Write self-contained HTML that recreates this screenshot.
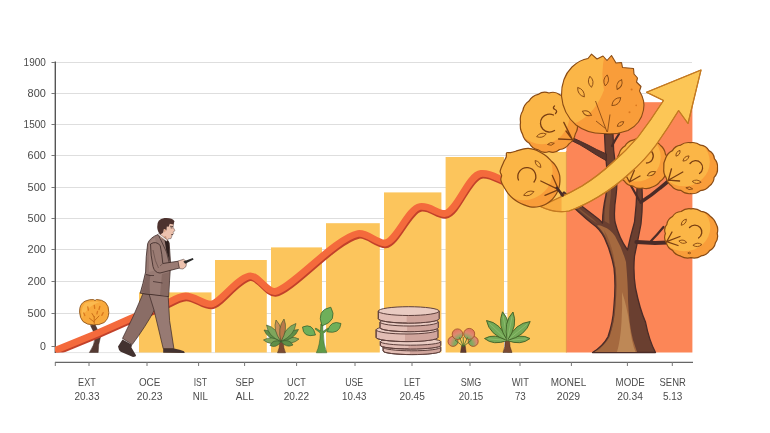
<!DOCTYPE html>
<html><head><meta charset="utf-8"><title>Growth chart</title>
<style>
html,body{margin:0;padding:0;background:#fff;}
body{width:770px;height:433px;overflow:hidden;}
svg{display:block;filter:blur(0.35px);}
.t{font-family:"Liberation Sans",sans-serif;font-size:10.1px;fill:#4c4c4c;}
.y{font-family:"Liberation Sans",sans-serif;font-size:10.6px;fill:#4a4a4a;}
</style></head><body>
<svg width="770" height="433" viewBox="0 0 770 433">
<rect width="770" height="433" fill="#ffffff"/>
<line x1="55" y1="62.5" x2="692" y2="62.5" stroke="#dedede" stroke-width="1"/>
<line x1="55" y1="93.5" x2="692" y2="93.5" stroke="#dedede" stroke-width="1"/>
<line x1="55" y1="124.5" x2="692" y2="124.5" stroke="#dedede" stroke-width="1"/>
<line x1="55" y1="155.5" x2="692" y2="155.5" stroke="#dedede" stroke-width="1"/>
<line x1="55" y1="187.5" x2="692" y2="187.5" stroke="#dedede" stroke-width="1"/>
<line x1="55" y1="218.5" x2="692" y2="218.5" stroke="#dedede" stroke-width="1"/>
<line x1="55" y1="249.5" x2="692" y2="249.5" stroke="#dedede" stroke-width="1"/>
<line x1="55" y1="281.5" x2="692" y2="281.5" stroke="#dedede" stroke-width="1"/>
<line x1="55" y1="313.5" x2="692" y2="313.5" stroke="#dedede" stroke-width="1"/>
<line x1="55" y1="352.6" x2="300" y2="352.6" stroke="#e4e4e4" stroke-width="1"/>
<rect x="139.0" y="292.4" width="72.5" height="60.1" fill="#FCC55C"/>
<rect x="215.0" y="260.0" width="51.8" height="92.5" fill="#FCC55C"/>
<rect x="271.0" y="247.4" width="51.0" height="105.1" fill="#FCC55C"/>
<rect x="326.0" y="223.2" width="53.8" height="129.3" fill="#FCC55C"/>
<rect x="384.0" y="192.4" width="57.4" height="160.1" fill="#FCC55C"/>
<rect x="445.6" y="157.0" width="58.4" height="195.5" fill="#FCC55C"/>
<rect x="507.4" y="152.0" width="59.1" height="200.5" fill="#FCC55C"/>
<rect x="566.4" y="102.2" width="126" height="250.3" fill="#FC8657"/>
<line x1="566.4" y1="151" x2="566.4" y2="352.5" stroke="#E0903F" stroke-width="0.8"/>
<line x1="55.3" y1="61.5" x2="55.3" y2="353" stroke="#555" stroke-width="1.4"/>
<line x1="51.5" y1="62.5" x2="55" y2="62.5" stroke="#777" stroke-width="1"/>
<line x1="51.5" y1="93.5" x2="55" y2="93.5" stroke="#777" stroke-width="1"/>
<line x1="51.5" y1="124.5" x2="55" y2="124.5" stroke="#777" stroke-width="1"/>
<line x1="51.5" y1="155.5" x2="55" y2="155.5" stroke="#777" stroke-width="1"/>
<line x1="51.5" y1="187.5" x2="55" y2="187.5" stroke="#777" stroke-width="1"/>
<line x1="51.5" y1="218.5" x2="55" y2="218.5" stroke="#777" stroke-width="1"/>
<line x1="51.5" y1="249.5" x2="55" y2="249.5" stroke="#777" stroke-width="1"/>
<line x1="51.5" y1="281.5" x2="55" y2="281.5" stroke="#777" stroke-width="1"/>
<line x1="51.5" y1="313.5" x2="55" y2="313.5" stroke="#777" stroke-width="1"/>
<line x1="51.5" y1="346.5" x2="55" y2="346.5" stroke="#777" stroke-width="1"/>
<path d="M89.4 352.5 Q94.5 345 95 338 Q94 331 90.5 325.5 L95 324.5 Q97.5 330 100.7 336 Q98 345 98.2 352.5Z" fill="#553a33" stroke="#3d2620" stroke-width="0.5"/>
<path d="M79.6 312 Q79.2 304 85 301.2 Q90 299 93.5 299.6 L95 300.6 L96.5 299.5 Q102 299.6 105.5 302.5 Q109 306 108.8 312.5 Q108.6 319 104 322.6 Q99 325.4 93.5 324.8 Q87 325 83 321.5 Q79.8 318 79.6 312Z" fill="#F8A93C" stroke="#8f5318" stroke-width="0.9"/>
<path d="M85 303 Q92 300.5 100 302 Q93 304 88 309 Q84 313 82 318 Q80 310 85 303Z" fill="#FBBE55" opacity="0.8"/>
<path d="M94.2 323.5 L94.2 316.5 M94.2 322 L89.5 318.3 M94.2 321 L99 316 M94.2 317 L92 313.5" stroke="#C96D18" stroke-width="1" fill="none" stroke-linecap="round"/>
<path d="M87.8 307 l0.6 3.2 M94.3 305.3 l0.4 3 M99.8 306.5 l-0.8 3 M83.8 313 l1 2.6 M103.2 312.6 l-1.4 2.8 M97.5 311.5 l-0.6 2.4" stroke="#D9781E" stroke-width="1.3" fill="none" stroke-linecap="round"/>
<clipPath id="cl"><rect x="55" y="0" width="700" height="352.5"/></clipPath>
<g clip-path="url(#cl)">
<path d="M55 350.5 L96.8 333.4 L131.8 317.8 L158 307.5 C168 303.5 177 296.3 185.6 296 C194.5 295.8 203 304.5 211.3 304.1 C220 303 236 279 249 276 C258 274 266 292 275 291.5 C290 290 335 238 358 233.5 C367 232 377 243.5 385 243 C396 242 408 208.5 420 206.5 C430 205 437 214 445 213.5 C457 212 468 175 481 173.5 C490 172.5 497 178 505 181" transform="translate(0.6,1.6)" fill="none" stroke="#C2412A" stroke-width="7.2" stroke-linejoin="round"/>
<path d="M55 350.5 L96.8 333.4 L131.8 317.8 L158 307.5 C168 303.5 177 296.3 185.6 296 C194.5 295.8 203 304.5 211.3 304.1 C220 303 236 279 249 276 C258 274 266 292 275 291.5 C290 290 335 238 358 233.5 C367 232 377 243.5 385 243 C396 242 408 208.5 420 206.5 C430 205 437 214 445 213.5 C457 212 468 175 481 173.5 C490 172.5 497 178 505 181" fill="none" stroke="#F46A3C" stroke-width="6.8" stroke-linejoin="round"/>
</g>
<g><path d="M143 293.5 L157 296 L154.5 310 Q146 326 132.2 344.6 L122.5 338.4 Q134 316 143 293.5Z" fill="#8a6d66" stroke="#3a2725" stroke-width="0.7"/><path d="M122.5 339.5 L118 346.4 Q118.5 350 120.7 351.7 L133 357 Q136 357 136 355.3 L131.4 347.5 L132 344.8 Z" fill="#433230"/><path d="M149 294 L168.2 295.7 Q169 310 169.6 320.6 L173.9 348.6 L163.2 348.6 L154 310 Z" fill="#977a73" stroke="#3a2725" stroke-width="0.7"/><path d="M163.2 348.4 L174.2 348.4 Q180 349.5 184 351.2 L184.8 353 L163.2 352.8 Z" fill="#433230"/><path d="M158 234.5 Q150 237.5 147.7 243.5 Q145.8 256 145.6 272 Q143 284 140.2 293.2 L168.6 296.6 Q169.5 280 170.6 264 L169.2 243 L165.5 236.5 Z" fill="#977a73" stroke="#3a2725" stroke-width="0.8" stroke-linejoin="round"/><path d="M149 246 Q150 240 155 238 L158 252 L156 270 L149 272 Z" fill="#A88A82" opacity="0.7"/><path d="M146 274 Q143.5 285 141.5 292.5 L150 293.5 Q149 282 150.5 275Z" fill="#6d524d" opacity="0.55"/><path d="M162 274 L169.8 272 L168.4 296 L160 295 Z" fill="#7d5f59" opacity="0.6"/><path d="M164 236.5 L168.8 242 L169.8 262 L166.2 250 Z" fill="#2e1f1e"/><path d="M158.5 235 L166.5 252 L169.5 264" fill="none" stroke="#3a2725" stroke-width="0.7"/><path d="M153 281.5 L162.5 283 M146 274.5 Q150 276 154 275.5" fill="none" stroke="#3a2725" stroke-width="0.7"/><path d="M150.5 244 Q156 240.5 160.2 245.5 Q162 254 162.8 263.5 L178.3 261.2 L179.6 268 L160 273 Q154.5 272.8 153 266.5 Q150.5 255 150.5 244Z" fill="#9a7b73" stroke="#3a2725" stroke-width="0.8" stroke-linejoin="round"/><path d="M153 250 Q155 262 158.5 268 M162.8 263.5 L160 266" fill="none" stroke="#5d4440" stroke-width="0.6"/><path d="M178 261 L183.5 259.3 L186.6 261.5 L186 266.5 L183 269 L179.6 268.6 Z" fill="#EDC2AE" stroke="#3a2725" stroke-width="0.5"/><path d="M183.3 261.6 L192.8 258 L193.6 259.6 L185.2 263.8 Z" fill="#2a2a2a"/><path d="M160.5 230 L160 238 L167.2 240.8 L168.3 238.8 L171 238.6 L172.2 235.2 L173.6 233.6 L173 232.2 L175 230.6 L173.2 227.4 L173.6 223.2 L165 221.5 Z" fill="#EDC2AE" stroke="#3a2725" stroke-width="0.4"/><path d="M160 238 L167.2 240.8 L166 236 Z" fill="#c99478"/><path d="M157.6 234.6 L166.6 241.6 L167.4 240 L159 233.4 Z" fill="#f4ece8" stroke="#3a2725" stroke-width="0.35"/><path d="M170 226.2 L173 226.6 M170.6 227.8 L172.4 228 M171.2 234.6 L173 234.4" stroke="#2e1f1e" stroke-width="0.7" fill="none"/><path d="M157.2 227 Q156.6 219 164.5 218 Q172 217.4 174.5 221.2 L173.4 224.4 L169.8 223.8 L168.6 226.8 L166.8 226.6 L166.4 230.4 L164 229 L163 232.8 L160.4 234.6 Q157.4 232 157.2 227Z" fill="#4d322e"/><path d="M163.6 229.6 q1.4 -1.6 2.2 0.4 q0 1.8 -1.4 2.4z" fill="#d9a486"/></g>
<path d="M277.5 352.8 Q280 348 279.5 341 L283.5 341 Q283 348 285.5 352.8Z" fill="#7a4a33" stroke="#3d2620" stroke-width="0.5"/><path d="M281.0 341.5 Q274.5 329.9 264.0 330.0 Q267.8 339.8 281.0 341.5Z" fill="#5F8F48" stroke="#36522a" stroke-width="0.6"/><path d="M281.0 341.5 Q271.3 335.1 263.5 340.0 Q270.4 346.2 281.0 341.5Z" fill="#7FA65C" stroke="#36522a" stroke-width="0.6"/><path d="M281.0 341.5 Q292.2 345.6 299.0 339.0 Q290.7 334.5 281.0 341.5Z" fill="#7FA65C" stroke="#36522a" stroke-width="0.6"/><path d="M281.0 341.5 Q294.5 339.5 298.5 329.5 Q287.8 329.6 281.0 341.5Z" fill="#5F8F48" stroke="#36522a" stroke-width="0.6"/><path d="M281.0 341.5 Q277.4 327.7 266.5 325.0 Q267.8 336.2 281.0 341.5Z" fill="#7FA65C" stroke="#36522a" stroke-width="0.6"/><path d="M281.0 341.5 Q294.6 335.2 296.0 323.5 Q284.8 327.0 281.0 341.5Z" fill="#7FA65C" stroke="#36522a" stroke-width="0.6"/><path d="M281.0 341.5 Q283.6 327.8 276.0 320.0 Q272.6 330.3 281.0 341.5Z" fill="#C98F58" stroke="#36522a" stroke-width="0.6"/><path d="M281.0 341.5 Q288.3 329.2 284.0 319.0 Q277.2 327.7 281.0 341.5Z" fill="#B9794A" stroke="#36522a" stroke-width="0.6"/><path d="M281.0 341.5 Q272.8 338.9 270.0 345.5 Q276.4 348.7 281.0 341.5Z" fill="#5F8F48" stroke="#36522a" stroke-width="0.6"/><path d="M281.0 341.5 Q286.5 348.5 293.0 345.0 Q289.4 338.5 281.0 341.5Z" fill="#5F8F48" stroke="#36522a" stroke-width="0.6"/>
<path d="M316.3 352.8 Q320 345 320.3 333 L315 329 L315.8 328 L320.5 331 L320.8 324 L322.8 324 L322.8 331.5 L328 328 L328.8 329 L323.3 333.5 Q323.5 345 326.8 352.8Z" fill="#5E9A48" stroke="#2f5a2a" stroke-width="0.5"/><path d="M322.0 326.0 Q338.3 320.4 330.8 307.2 Q315.9 309.8 322.0 326.0Z" fill="#6FAF5A" stroke="#2f5a2a" stroke-width="0.7"/><path d="M315.5 335.0 Q312.8 322.5 302.5 327.0 Q303.1 338.2 315.5 335.0Z" fill="#6FAF5A" stroke="#2f5a2a" stroke-width="0.7"/><path d="M327.2 331.8 Q339.7 334.5 341.0 323.5 Q330.7 319.4 327.2 331.8Z" fill="#6FAF5A" stroke="#2f5a2a" stroke-width="0.7"/>
<path d="M383.1 347.2 L383.1 351.0 A28.8 3.6 0 0 0 440.7 351.0 L440.7 347.2 Z" fill="#E2BDB4" stroke="#5e403c" stroke-width="1"/><path d="M409.9 347.2 L409.9 354.6 A29.4 3.6 0 0 0 440.7 351.0 L440.7 347.2 Z" fill="#D0A59C"/><path d="M383.1 347.2 L383.1 351.0 A28.8 3.6 0 0 0 440.7 351.0 L440.7 347.2 Z" fill="none" stroke="#5e403c" stroke-width="1"/><ellipse cx="411.9" cy="347.2" rx="28.8" ry="3.6" fill="#E9CBC2" stroke="#5e403c" stroke-width="1"/>
<path d="M380.3 341.6 L380.3 345.4 A30.2 3.6 0 0 0 440.7 345.4 L440.7 341.6 Z" fill="#E2BDB4" stroke="#5e403c" stroke-width="1"/><path d="M408.5 341.6 L408.5 349.0 A30.8 3.6 0 0 0 440.7 345.4 L440.7 341.6 Z" fill="#D0A59C"/><path d="M380.3 341.6 L380.3 345.4 A30.2 3.6 0 0 0 440.7 345.4 L440.7 341.6 Z" fill="none" stroke="#5e403c" stroke-width="1"/><ellipse cx="410.5" cy="341.6" rx="30.2" ry="3.6" fill="#E9CBC2" stroke="#5e403c" stroke-width="1"/>
<path d="M376.1 329.8 L376.1 337.4 A30.9 4.2 0 0 0 437.9 337.4 L437.9 329.8 Z" fill="#E2BDB4" stroke="#5e403c" stroke-width="1"/><path d="M405.0 329.8 L405.0 341.6 A31.5 4.2 0 0 0 437.9 337.4 L437.9 329.8 Z" fill="#D0A59C"/><path d="M376.1 329.8 L376.1 337.4 A30.9 4.2 0 0 0 437.9 337.4 L437.9 329.8 Z" fill="none" stroke="#5e403c" stroke-width="1"/><ellipse cx="407.0" cy="329.8" rx="30.9" ry="4.2" fill="#E9CBC2" stroke="#5e403c" stroke-width="1"/>
<path d="M380.0 322.0 L380.0 327.7 A29.1 4.0 0 0 0 438.2 327.7 L438.2 322.0 Z" fill="#E2BDB4" stroke="#5e403c" stroke-width="1"/><path d="M407.1 322.0 L407.1 331.7 A29.7 4.0 0 0 0 438.2 327.7 L438.2 322.0 Z" fill="#D0A59C"/><path d="M380.0 322.0 L380.0 327.7 A29.1 4.0 0 0 0 438.2 327.7 L438.2 322.0 Z" fill="none" stroke="#5e403c" stroke-width="1"/><ellipse cx="409.1" cy="322.0" rx="29.1" ry="4.0" fill="#E9CBC2" stroke="#5e403c" stroke-width="1"/>
<path d="M378.3 311.1 L378.3 318.7 A30.4 4.4 0 0 0 439.1 318.7 L439.1 311.1 Z" fill="#E2BDB4" stroke="#5e403c" stroke-width="1"/><path d="M406.7 311.1 L406.7 323.1 A31.0 4.4 0 0 0 439.1 318.7 L439.1 311.1 Z" fill="#D0A59C"/><path d="M378.3 311.1 L378.3 318.7 A30.4 4.4 0 0 0 439.1 318.7 L439.1 311.1 Z" fill="none" stroke="#5e403c" stroke-width="1"/><ellipse cx="408.7" cy="311.1" rx="30.4" ry="4.4" fill="#E9CBC2" stroke="#5e403c" stroke-width="1"/>
<radialGradient id="g3" gradientUnits="userSpaceOnUse" cx="463.4" cy="346" r="17"><stop offset="0" stop-color="#5f9a48"/><stop offset="0.55" stop-color="#86aa62"/><stop offset="0.82" stop-color="#dd8a70"/><stop offset="1" stop-color="#e27a62"/></radialGradient><path d="M460.5 352.5 L461.6 345.5 L465.2 345.5 L466.2 352.5Z" fill="#5e3a30" stroke="#3d2620" stroke-width="0.4"/><circle cx="453.0" cy="341.4" r="5.0" fill="url(#g3)" stroke="#9a4a26" stroke-width="0.8"/><circle cx="473.2" cy="341.4" r="5.0" fill="url(#g3)" stroke="#9a4a26" stroke-width="0.8"/><circle cx="457.5" cy="334.2" r="5.3" fill="url(#g3)" stroke="#9a4a26" stroke-width="0.8"/><circle cx="469.2" cy="333.9" r="5.5" fill="url(#g3)" stroke="#9a4a26" stroke-width="0.8"/><path d="M463.4 346.5 L455 340 M463.4 346.5 L471.5 340 M463.4 346.5 L463.2 337 M463.4 346.5 L459.5 337.5 M463.4 346.5 L467.5 337.5" stroke="#3f6a2c" stroke-width="0.8" fill="none"/>
<path d="M503 352.5 Q505.5 347 505 340 L509.5 340 Q509.3 347 512 352.5Z" fill="#7a4a33" stroke="#3d2620" stroke-width="0.5"/><path d="M507.3 340.5 Q494.7 332.8 484.5 338.5 Q493.5 345.9 507.3 340.5Z" fill="#74A957" stroke="#3f5f26" stroke-width="0.9"/><line x1="507.3" y1="340.5" x2="487.9" y2="338.8" stroke="#a5cf85" stroke-width="0.6" opacity="0.8"/><path d="M507.3 340.5 Q521.0 345.9 530.0 338.5 Q519.9 332.8 507.3 340.5Z" fill="#74A957" stroke="#3f5f26" stroke-width="0.9"/><line x1="507.3" y1="340.5" x2="526.6" y2="338.8" stroke="#a5cf85" stroke-width="0.6" opacity="0.8"/><path d="M507.3 340.5 Q501.1 322.8 486.5 320.5 Q489.4 335.0 507.3 340.5Z" fill="#74A957" stroke="#3f5f26" stroke-width="0.9"/><line x1="507.3" y1="340.5" x2="489.6" y2="323.5" stroke="#a5cf85" stroke-width="0.6" opacity="0.8"/><path d="M507.3 340.5 Q525.9 335.9 530.2 321.5 Q515.2 323.0 507.3 340.5Z" fill="#74A957" stroke="#3f5f26" stroke-width="0.9"/><line x1="507.3" y1="340.5" x2="526.8" y2="324.4" stroke="#a5cf85" stroke-width="0.6" opacity="0.8"/><path d="M507.3 340.5 Q512.2 322.6 502.5 311.8 Q496.8 325.1 507.3 340.5Z" fill="#74A957" stroke="#3f5f26" stroke-width="0.9"/><line x1="507.3" y1="340.5" x2="503.2" y2="316.1" stroke="#a5cf85" stroke-width="0.6" opacity="0.8"/><path d="M507.3 340.5 Q518.3 325.5 513.0 312.0 Q503.0 322.4 507.3 340.5Z" fill="#74A957" stroke="#3f5f26" stroke-width="0.9"/><line x1="507.3" y1="340.5" x2="512.1" y2="316.3" stroke="#a5cf85" stroke-width="0.6" opacity="0.8"/>
<path d="M592.5 352.5 Q603 346 608 336.7 Q613 322 613.8 308 Q616 285 614 268 Q611 252 604.5 238 Q600 229 592 223.5 Q580 214 561 195 L564 192 Q580 205 594 215.5 Q599 219 602.5 223 Q602.5 210 606 195 Q608 180 606.5 165 Q605 150 604.5 134 L613 134 Q613 150 615.5 165 Q618 180 616 196 Q613.5 212 615 222 Q619 238 627.5 250 Q630.5 236 634.5 222 Q636.5 205 637 188 L642 188 Q643 206 641 224 Q638 240 634.5 256 Q633 272 635.5 288 Q640 310 645.5 322 Q649 340 655.5 352.5 Z" fill="#6a3f30" stroke="#4a2b27" stroke-width="1.3" stroke-linejoin="round"/><path d="M594.5 352 Q604.5 346 609.5 336.7 Q614.5 322 615.3 308 Q617.5 285 615.5 268 Q612.5 252 606 238 Q603 231 597 225.5 Q600 224.5 604 227 Q610 229 615 236 Q622 248 626 262 Q628 285 628 300 Q629 325 633 340 L637 352Z" fill="#A5693F"/><path d="M617 352 Q620.5 340 621.5 322 Q622.5 306 622 292 Q627 306 629.5 325 Q631.5 342 635.5 352Z" fill="#BE8856"/><path d="M604 230 Q610 240 613.5 255 Q616 270 616 290 Q615.5 312 612 328 Q609 340 600 349 L596 351.5 Q605 345 609 336.7 Q613.5 322 614.4 308 Q616.5 285 614.8 268 Q612 252 606 238Z" fill="#8a5233" opacity="0.7"/><path d="M604.5 221 Q604 210 607 195 Q608.5 182 607.5 170 L610.5 170 Q612 185 610.5 198 Q608.5 212 609.5 224 Z" fill="#8a573a" opacity="0.85"/><path d="M566 198.5 Q580 209 593 219 L598 224 Q585 216 566 198.5Z" fill="#8a573a" opacity="0.8"/><path d="M606.5 154 Q596 149.5 588 145 Q580 141 573 138 L572 140.8 Q580 144.5 587 149 Q596 155 606 160.5Z" fill="#5a352c" stroke="#4a2b27" stroke-width="1" stroke-linejoin="round"/><path d="M612 146 Q615 140 619 134" fill="none" stroke="#4a2b27" stroke-width="2.2" stroke-linecap="round"/><path d="M641 202 Q652 195 660 188 L668.5 181" fill="none" stroke="#4a2b27" stroke-width="3.6" stroke-linecap="round"/><path d="M636.5 242 Q646 242.5 655 243 L667 242.5" fill="none" stroke="#4a2b27" stroke-width="4.2" stroke-linecap="round"/><path d="M651 241 Q657 235 663.5 227" fill="none" stroke="#4a2b27" stroke-width="2.2" stroke-linecap="round"/><path d="M639 200 Q634 191 629.5 183" fill="none" stroke="#4a2b27" stroke-width="2.2" stroke-linecap="round"/>
<g><clipPath id="c14"><path d="M666.9 163.5 Q668.7 168.7 665.9 173.1 Q664.7 178.2 660.3 181.2 Q657.4 185.6 652.3 187.0 Q647.7 189.5 642.5 188.0 Q637.3 189.5 633.1 186.1 Q627.6 185.6 624.6 181.3 Q620.3 178.2 619.2 173.1 Q616.3 168.7 617.8 163.5 Q616.3 158.3 619.1 153.9 Q620.3 148.8 624.9 146.1 Q627.6 141.4 632.8 140.2 Q637.3 137.5 642.5 139.3 Q647.7 137.5 651.9 141.0 Q657.4 141.4 660.6 145.5 Q664.7 148.8 665.4 154.1 Q668.7 158.3 666.9 163.5Z"/></clipPath><path d="M666.9 163.5 Q668.7 168.7 665.9 173.1 Q664.7 178.2 660.3 181.2 Q657.4 185.6 652.3 187.0 Q647.7 189.5 642.5 188.0 Q637.3 189.5 633.1 186.1 Q627.6 185.6 624.6 181.3 Q620.3 178.2 619.2 173.1 Q616.3 168.7 617.8 163.5 Q616.3 158.3 619.1 153.9 Q620.3 148.8 624.9 146.1 Q627.6 141.4 632.8 140.2 Q637.3 137.5 642.5 139.3 Q647.7 137.5 651.9 141.0 Q657.4 141.4 660.6 145.5 Q664.7 148.8 665.4 154.1 Q668.7 158.3 666.9 163.5Z" fill="#F99D3A"/><ellipse cx="636.2" cy="157.3" rx="24.5" ry="24.3" fill="#FBB647" clip-path="url(#c14)"/><path d="M666.9 163.5 Q668.7 168.7 665.9 173.1 Q664.7 178.2 660.3 181.2 Q657.4 185.6 652.3 187.0 Q647.7 189.5 642.5 188.0 Q637.3 189.5 633.1 186.1 Q627.6 185.6 624.6 181.3 Q620.3 178.2 619.2 173.1 Q616.3 168.7 617.8 163.5 Q616.3 158.3 619.1 153.9 Q620.3 148.8 624.9 146.1 Q627.6 141.4 632.8 140.2 Q637.3 137.5 642.5 139.3 Q647.7 137.5 651.9 141.0 Q657.4 141.4 660.6 145.5 Q664.7 148.8 665.4 154.1 Q668.7 158.3 666.9 163.5Z" fill="none" stroke="#8A4B14" stroke-width="1.2"/><path d="M-4.5 0 Q0 -3.6 4.5 0 Q0 3.6 -4.5 0Z" transform="translate(651.4 173.7) rotate(-25)" fill="none" stroke="#8A4B14" stroke-width="0.9"/><path d="M629.5 182 L634.3 170.5 M629.5 182 L640 176 M629.5 182 L624 172 M640.5 152 a7 7 0 1 1 6 11" fill="none" stroke="#7a3f12" stroke-width="1.3" stroke-linecap="round"/></g>
<g><clipPath id="c15"><path d="M717.5 168.0 Q718.1 173.2 714.1 177.3 Q713.9 182.9 709.4 185.9 Q706.2 190.2 700.4 190.6 Q696.1 194.2 690.6 193.7 Q685.1 194.2 680.9 190.4 Q675.0 190.2 671.7 186.1 Q667.3 182.9 666.1 177.7 Q663.1 173.2 663.8 168.0 Q663.1 162.8 665.7 158.1 Q667.3 153.1 672.4 150.6 Q675.0 145.8 680.7 145.1 Q685.1 141.8 690.6 142.7 Q696.1 141.8 700.5 145.2 Q706.2 145.8 708.9 150.6 Q713.9 153.1 714.4 158.6 Q718.1 162.8 717.5 168.0Z"/></clipPath><path d="M717.5 168.0 Q718.1 173.2 714.1 177.3 Q713.9 182.9 709.4 185.9 Q706.2 190.2 700.4 190.6 Q696.1 194.2 690.6 193.7 Q685.1 194.2 680.9 190.4 Q675.0 190.2 671.7 186.1 Q667.3 182.9 666.1 177.7 Q663.1 173.2 663.8 168.0 Q663.1 162.8 665.7 158.1 Q667.3 153.1 672.4 150.6 Q675.0 145.8 680.7 145.1 Q685.1 141.8 690.6 142.7 Q696.1 141.8 700.5 145.2 Q706.2 145.8 708.9 150.6 Q713.9 153.1 714.4 158.6 Q718.1 162.8 717.5 168.0Z" fill="#F99D3A"/><ellipse cx="684.1" cy="161.8" rx="25.7" ry="24.5" fill="#FBB647" clip-path="url(#c15)"/><path d="M717.5 168.0 Q718.1 173.2 714.1 177.3 Q713.9 182.9 709.4 185.9 Q706.2 190.2 700.4 190.6 Q696.1 194.2 690.6 193.7 Q685.1 194.2 680.9 190.4 Q675.0 190.2 671.7 186.1 Q667.3 182.9 666.1 177.7 Q663.1 173.2 663.8 168.0 Q663.1 162.8 665.7 158.1 Q667.3 153.1 672.4 150.6 Q675.0 145.8 680.7 145.1 Q685.1 141.8 690.6 142.7 Q696.1 141.8 700.5 145.2 Q706.2 145.8 708.9 150.6 Q713.9 153.1 714.4 158.6 Q718.1 162.8 717.5 168.0Z" fill="none" stroke="#8A4B14" stroke-width="1.2"/><path d="M-3.5 0 Q0 -3.0 3.5 0 Q0 3.0 -3.5 0Z" transform="translate(678.0 153.3) rotate(-55)" fill="none" stroke="#8A4B14" stroke-width="0.9"/><path d="M-4.0 0 Q0 -3.2 4.0 0 Q0 3.2 -4.0 0Z" transform="translate(686.0 158.5) rotate(-40)" fill="none" stroke="#8A4B14" stroke-width="0.9"/><path d="M-4.5 0 Q0 -3.4 4.5 0 Q0 3.4 -4.5 0Z" transform="translate(696.7 181.8) rotate(5)" fill="none" stroke="#8A4B14" stroke-width="0.9"/><path d="M-3.5 0 Q0 -2.6 3.5 0 Q0 2.6 -3.5 0Z" transform="translate(689.3 188.3) rotate(10)" fill="none" stroke="#8A4B14" stroke-width="0.9"/><path d="M668.3 180.2 L671.5 168.8 M668.3 180.2 L682.8 172 M668.3 180.2 L679.6 181 M690 163.5 a7 7 0 1 1 9.5 10" fill="none" stroke="#7a3f12" stroke-width="1.3" stroke-linecap="round"/></g>
<g><clipPath id="c16"><path d="M717.2 233.5 Q718.7 238.6 715.4 242.8 Q714.5 247.9 709.6 250.6 Q706.7 255.1 701.1 255.9 Q696.5 259.0 691.0 257.7 Q685.5 259.0 680.8 256.2 Q675.3 255.1 672.6 250.4 Q667.5 247.9 666.4 242.9 Q663.3 238.6 665.4 233.5 Q663.3 228.4 666.9 224.3 Q667.5 219.1 672.5 216.5 Q675.3 211.9 681.1 211.5 Q685.5 208.0 691.0 208.8 Q696.5 208.0 701.0 211.3 Q706.7 211.9 710.0 216.0 Q714.5 219.1 716.1 223.9 Q718.7 228.4 717.2 233.5Z"/></clipPath><path d="M717.2 233.5 Q718.7 238.6 715.4 242.8 Q714.5 247.9 709.6 250.6 Q706.7 255.1 701.1 255.9 Q696.5 259.0 691.0 257.7 Q685.5 259.0 680.8 256.2 Q675.3 255.1 672.6 250.4 Q667.5 247.9 666.4 242.9 Q663.3 238.6 665.4 233.5 Q663.3 228.4 666.9 224.3 Q667.5 219.1 672.5 216.5 Q675.3 211.9 681.1 211.5 Q685.5 208.0 691.0 208.8 Q696.5 208.0 701.0 211.3 Q706.7 211.9 710.0 216.0 Q714.5 219.1 716.1 223.9 Q718.7 228.4 717.2 233.5Z" fill="#F99D3A"/><ellipse cx="684.4" cy="227.4" rx="25.9" ry="23.8" fill="#FBB647" clip-path="url(#c16)"/><path d="M717.2 233.5 Q718.7 238.6 715.4 242.8 Q714.5 247.9 709.6 250.6 Q706.7 255.1 701.1 255.9 Q696.5 259.0 691.0 257.7 Q685.5 259.0 680.8 256.2 Q675.3 255.1 672.6 250.4 Q667.5 247.9 666.4 242.9 Q663.3 238.6 665.4 233.5 Q663.3 228.4 666.9 224.3 Q667.5 219.1 672.5 216.5 Q675.3 211.9 681.1 211.5 Q685.5 208.0 691.0 208.8 Q696.5 208.0 701.0 211.3 Q706.7 211.9 710.0 216.0 Q714.5 219.1 716.1 223.9 Q718.7 228.4 717.2 233.5Z" fill="none" stroke="#8A4B14" stroke-width="1.2"/><path d="M-4.0 0 Q0 -3.2 4.0 0 Q0 3.2 -4.0 0Z" transform="translate(683.8 222.2) rotate(-50)" fill="none" stroke="#8A4B14" stroke-width="0.9"/><path d="M-4.0 0 Q0 -3.2 4.0 0 Q0 3.2 -4.0 0Z" transform="translate(682.8 241.7) rotate(10)" fill="none" stroke="#8A4B14" stroke-width="0.9"/><path d="M-4.5 0 Q0 -3.4 4.5 0 Q0 3.4 -4.5 0Z" transform="translate(697.4 244.9) rotate(-5)" fill="none" stroke="#8A4B14" stroke-width="0.9"/><path d="M-1.5 0 Q0 -1.6 1.5 0 Q0 1.6 -1.5 0Z" transform="translate(689.3 253.0) rotate(0)" fill="none" stroke="#8A4B14" stroke-width="0.9"/><path d="M666.6 241.7 L672 232 M666.6 241.7 L680 236.5 M666.6 241.7 L678 245.5 M689.5 227.5 a7 7 0 1 1 9 10.5" fill="none" stroke="#7a3f12" stroke-width="1.3" stroke-linecap="round"/></g>
<g><clipPath id="c12"><path d="M577.2 122.4 Q578.6 128.7 575.3 134.0 Q574.1 140.2 569.1 143.8 Q565.8 149.1 559.6 149.5 Q554.9 153.9 549.0 151.5 Q543.1 153.9 538.3 149.9 Q532.2 149.1 529.3 143.3 Q523.9 140.2 522.5 134.1 Q519.4 128.7 520.5 122.4 Q519.4 116.1 522.8 110.8 Q523.9 104.6 529.0 101.1 Q532.2 95.7 538.1 94.4 Q543.1 90.9 549.0 93.0 Q554.9 90.9 559.8 94.8 Q565.8 95.7 568.5 101.6 Q574.1 104.6 575.7 110.6 Q578.6 116.1 577.2 122.4Z"/></clipPath><path d="M577.2 122.4 Q578.6 128.7 575.3 134.0 Q574.1 140.2 569.1 143.8 Q565.8 149.1 559.6 149.5 Q554.9 153.9 549.0 151.5 Q543.1 153.9 538.3 149.9 Q532.2 149.1 529.3 143.3 Q523.9 140.2 522.5 134.1 Q519.4 128.7 520.5 122.4 Q519.4 116.1 522.8 110.8 Q523.9 104.6 529.0 101.1 Q532.2 95.7 538.1 94.4 Q543.1 90.9 549.0 93.0 Q554.9 90.9 559.8 94.8 Q565.8 95.7 568.5 101.6 Q574.1 104.6 575.7 110.6 Q578.6 116.1 577.2 122.4Z" fill="#F99D3A"/><ellipse cx="542.0" cy="114.9" rx="27.6" ry="29.4" fill="#FBB647" clip-path="url(#c12)"/><path d="M577.2 122.4 Q578.6 128.7 575.3 134.0 Q574.1 140.2 569.1 143.8 Q565.8 149.1 559.6 149.5 Q554.9 153.9 549.0 151.5 Q543.1 153.9 538.3 149.9 Q532.2 149.1 529.3 143.3 Q523.9 140.2 522.5 134.1 Q519.4 128.7 520.5 122.4 Q519.4 116.1 522.8 110.8 Q523.9 104.6 529.0 101.1 Q532.2 95.7 538.1 94.4 Q543.1 90.9 549.0 93.0 Q554.9 90.9 559.8 94.8 Q565.8 95.7 568.5 101.6 Q574.1 104.6 575.7 110.6 Q578.6 116.1 577.2 122.4Z" fill="none" stroke="#8A4B14" stroke-width="1.2"/><path d="M-5.0 0 Q0 -3.8 5.0 0 Q0 3.8 -5.0 0Z" transform="translate(541.4 135.3) rotate(-15)" fill="none" stroke="#8A4B14" stroke-width="0.9"/><path d="M-3.5 0 Q0 -2.8 3.5 0 Q0 2.8 -3.5 0Z" transform="translate(550.9 143.9) rotate(-10)" fill="none" stroke="#8A4B14" stroke-width="0.9"/><path d="M572.4 139.6 L563.8 122.4 M572.4 139.6 L558.6 139 M572.4 139.6 L566 131 M553.5 115 a9 9 0 1 0 1 15.5 M554.5 106 q-2.5 2 0.5 3.5 q3 1.5 0.5 4" fill="none" stroke="#7a3f12" stroke-width="1.3" stroke-linecap="round"/></g>
<path d="M540.5 206.5 L558.5 198 Q571 192.5 582 186 Q598 176 612 163 Q626 151 638 137 Q651 120 663.5 100.5 L646.5 92.3 L701 70 L688 123.5 L678.6 110.5 Q668 128 656 145 Q645 160 630 173 Q615 187 598 197 Q583 206 569 211 Q555 213.5 540.5 206.5Z" fill="#FCC656" stroke="#C47A22" stroke-width="1.1" stroke-linejoin="round"/>
<clipPath id="ca"><path d="M540.5 206.5 L558.5 198 Q571 192.5 582 186 Q598 176 612 163 Q626 151 638 137 Q651 120 663.5 100.5 L646.5 92.3 L701 70 L688 123.5 L678.6 110.5 Q668 128 656 145 Q645 160 630 173 Q615 187 598 197 Q583 206 569 211 Q555 213.5 540.5 206.5Z"/></clipPath>
<rect x="530" y="185" width="31.5" height="35" fill="#F7A43C" opacity="0.85" clip-path="url(#ca)"/>
<path d="M540.5 206.5 L558.5 198 Q571 192.5 582 186 Q598 176 612 163 Q626 151 638 137 Q651 120 663.5 100.5 L646.5 92.3 L701 70 L688 123.5 L678.6 110.5 Q668 128 656 145 Q645 160 630 173 Q615 187 598 197 Q583 206 569 211 Q555 213.5 540.5 206.5Z" fill="none" stroke="#C47A22" stroke-width="1.1" stroke-linejoin="round"/>
<g><clipPath id="c13"><path d="M500.2 171.2 C500.5 169.1 502.3 165.3 503.3 162.9 C504.3 160.5 505.6 158.7 506.2 157.0 C506.8 155.3 505.9 153.5 506.6 152.8 C507.3 152.1 509.0 152.9 510.5 152.6 C512.0 152.3 513.9 151.8 515.8 151.2 C517.7 150.6 519.9 149.8 522.0 149.3 C524.1 148.8 526.2 148.2 528.3 148.3 C530.4 148.4 532.7 148.9 534.8 149.6 C536.9 150.3 538.8 151.4 540.7 152.5 C542.7 153.6 544.8 154.8 546.5 156.2 C548.2 157.6 549.7 159.4 551.1 160.8 C552.5 162.2 553.8 163.2 554.8 164.6 C555.8 166.0 556.6 167.3 557.4 169.1 C558.2 170.9 559.2 173.1 559.6 175.2 C560.0 177.3 560.0 179.5 559.9 181.6 C559.8 183.7 559.5 185.9 558.9 188.0 C558.3 190.1 557.4 192.1 556.3 194.0 C555.2 195.9 553.8 197.7 552.3 199.3 C550.8 200.9 548.7 202.3 547.0 203.4 C545.3 204.5 543.7 205.2 542.0 205.8 C540.3 206.4 538.6 206.8 536.6 207.0 C534.6 207.2 532.3 207.2 530.2 206.8 C528.1 206.5 526.1 205.7 524.1 204.9 C522.1 204.1 519.9 203.1 518.0 202.0 C516.1 200.9 514.4 199.6 512.7 198.2 C511.0 196.8 509.4 195.0 508.0 193.3 C506.6 191.6 505.4 189.4 504.4 187.8 C503.4 186.2 502.6 184.9 502.0 183.5 C501.4 182.1 500.9 180.9 500.8 179.5 C500.7 178.1 501.7 176.7 501.6 175.3 C501.5 173.9 499.9 173.3 500.2 171.2Z"/></clipPath><path d="M500.2 171.2 C500.5 169.1 502.3 165.3 503.3 162.9 C504.3 160.5 505.6 158.7 506.2 157.0 C506.8 155.3 505.9 153.5 506.6 152.8 C507.3 152.1 509.0 152.9 510.5 152.6 C512.0 152.3 513.9 151.8 515.8 151.2 C517.7 150.6 519.9 149.8 522.0 149.3 C524.1 148.8 526.2 148.2 528.3 148.3 C530.4 148.4 532.7 148.9 534.8 149.6 C536.9 150.3 538.8 151.4 540.7 152.5 C542.7 153.6 544.8 154.8 546.5 156.2 C548.2 157.6 549.7 159.4 551.1 160.8 C552.5 162.2 553.8 163.2 554.8 164.6 C555.8 166.0 556.6 167.3 557.4 169.1 C558.2 170.9 559.2 173.1 559.6 175.2 C560.0 177.3 560.0 179.5 559.9 181.6 C559.8 183.7 559.5 185.9 558.9 188.0 C558.3 190.1 557.4 192.1 556.3 194.0 C555.2 195.9 553.8 197.7 552.3 199.3 C550.8 200.9 548.7 202.3 547.0 203.4 C545.3 204.5 543.7 205.2 542.0 205.8 C540.3 206.4 538.6 206.8 536.6 207.0 C534.6 207.2 532.3 207.2 530.2 206.8 C528.1 206.5 526.1 205.7 524.1 204.9 C522.1 204.1 519.9 203.1 518.0 202.0 C516.1 200.9 514.4 199.6 512.7 198.2 C511.0 196.8 509.4 195.0 508.0 193.3 C506.6 191.6 505.4 189.4 504.4 187.8 C503.4 186.2 502.6 184.9 502.0 183.5 C501.4 182.1 500.9 180.9 500.8 179.5 C500.7 178.1 501.7 176.7 501.6 175.3 C501.5 173.9 499.9 173.3 500.2 171.2Z" fill="#F99D3A"/><ellipse cx="523.6" cy="171.3" rx="29.0" ry="29.0" fill="#FBB647" clip-path="url(#c13)"/><path d="M500.2 171.2 C500.5 169.1 502.3 165.3 503.3 162.9 C504.3 160.5 505.6 158.7 506.2 157.0 C506.8 155.3 505.9 153.5 506.6 152.8 C507.3 152.1 509.0 152.9 510.5 152.6 C512.0 152.3 513.9 151.8 515.8 151.2 C517.7 150.6 519.9 149.8 522.0 149.3 C524.1 148.8 526.2 148.2 528.3 148.3 C530.4 148.4 532.7 148.9 534.8 149.6 C536.9 150.3 538.8 151.4 540.7 152.5 C542.7 153.6 544.8 154.8 546.5 156.2 C548.2 157.6 549.7 159.4 551.1 160.8 C552.5 162.2 553.8 163.2 554.8 164.6 C555.8 166.0 556.6 167.3 557.4 169.1 C558.2 170.9 559.2 173.1 559.6 175.2 C560.0 177.3 560.0 179.5 559.9 181.6 C559.8 183.7 559.5 185.9 558.9 188.0 C558.3 190.1 557.4 192.1 556.3 194.0 C555.2 195.9 553.8 197.7 552.3 199.3 C550.8 200.9 548.7 202.3 547.0 203.4 C545.3 204.5 543.7 205.2 542.0 205.8 C540.3 206.4 538.6 206.8 536.6 207.0 C534.6 207.2 532.3 207.2 530.2 206.8 C528.1 206.5 526.1 205.7 524.1 204.9 C522.1 204.1 519.9 203.1 518.0 202.0 C516.1 200.9 514.4 199.6 512.7 198.2 C511.0 196.8 509.4 195.0 508.0 193.3 C506.6 191.6 505.4 189.4 504.4 187.8 C503.4 186.2 502.6 184.9 502.0 183.5 C501.4 182.1 500.9 180.9 500.8 179.5 C500.7 178.1 501.7 176.7 501.6 175.3 C501.5 173.9 499.9 173.3 500.2 171.2Z" fill="none" stroke="#8A4B14" stroke-width="1.2"/><path d="M-4.5 0 Q0 -3.6 4.5 0 Q0 3.6 -4.5 0Z" transform="translate(538.0 164.0) rotate(50)" fill="none" stroke="#8A4B14" stroke-width="0.9"/><path d="M-5.5 0 Q0 -4.0 5.5 0 Q0 4.0 -5.5 0Z" transform="translate(528.8 193.4) rotate(-20)" fill="none" stroke="#8A4B14" stroke-width="0.9"/><path d="M558.6 189.7 L552.3 175.4 M558.6 189.7 L540.8 181 M558.6 189.7 L545 195.4 M518.5 180 a9 9 0 1 1 15.5 2" fill="none" stroke="#7a3f12" stroke-width="1.3" stroke-linecap="round"/></g>
<path d="M556.8 187.8 L562.6 195.4" stroke="#4a2b27" stroke-width="2.6" stroke-linecap="round" fill="none"/>
<clipPath id="c1"><path d="M561.5 96 Q561 78 572 67 Q580 59.5 588 58.5 L591.5 54.2 L597 59 L603 56 L607 60.5 L611.5 55.5 L616 63 L621.5 62.5 L622.5 67.5 L633.5 68.5 L634 74 L637.5 78 L636.5 82 L641 86.5 L639.5 91 Q645.5 101 643.5 110 Q641 124 628 130.5 Q616 135 604 133.5 Q588 134 576 125 Q563 114 561.5 96Z"/></clipPath>
<path d="M561.5 96 Q561 78 572 67 Q580 59.5 588 58.5 L591.5 54.2 L597 59 L603 56 L607 60.5 L611.5 55.5 L616 63 L621.5 62.5 L622.5 67.5 L633.5 68.5 L634 74 L637.5 78 L636.5 82 L641 86.5 L639.5 91 Q645.5 101 643.5 110 Q641 124 628 130.5 Q616 135 604 133.5 Q588 134 576 125 Q563 114 561.5 96Z" fill="#F99D3A"/>
<path d="M555 50 L606 50 Q600 70 604 90 Q596 112 578 122 L555 130Z" fill="#FBB647" clip-path="url(#c1)"/>
<path d="M561.5 96 Q561 78 572 67 Q580 59.5 588 58.5 L591.5 54.2 L597 59 L603 56 L607 60.5 L611.5 55.5 L616 63 L621.5 62.5 L622.5 67.5 L633.5 68.5 L634 74 L637.5 78 L636.5 82 L641 86.5 L639.5 91 Q645.5 101 643.5 110 Q641 124 628 130.5 Q616 135 604 133.5 Q588 134 576 125 Q563 114 561.5 96Z" fill="none" stroke="#8A4B14" stroke-width="1.1" stroke-linejoin="round"/>
<path d="M-5.6 0 Q0 -4.6 5.6 0 Q0 4.6 -5.6 0Z" transform="translate(590.7 81.8) rotate(82)" fill="none" stroke="#8A4B14" stroke-width="0.9"/>
<path d="M-5.6 0 Q0 -4.6 5.6 0 Q0 4.6 -5.6 0Z" transform="translate(606.2 80.4) rotate(100)" fill="none" stroke="#8A4B14" stroke-width="0.9"/>
<path d="M-5.4 0 Q0 -4.6 5.4 0 Q0 4.6 -5.4 0Z" transform="translate(619.4 84.6) rotate(115)" fill="none" stroke="#8A4B14" stroke-width="0.9"/>
<path d="M-5.8 0 Q0 -4.6 5.8 0 Q0 4.6 -5.8 0Z" transform="translate(581.0 92.2) rotate(55)" fill="none" stroke="#8A4B14" stroke-width="0.9"/>
<path d="M-6.0 0 Q0 -5.2 6.0 0 Q0 5.2 -6.0 0Z" transform="translate(616.3 101.6) rotate(-42)" fill="none" stroke="#8A4B14" stroke-width="0.9"/>
<path d="M-5.0 0 Q0 -4.2 5.0 0 Q0 4.2 -5.0 0Z" transform="translate(587.0 113.3) rotate(25)" fill="none" stroke="#8A4B14" stroke-width="0.9"/>
<path d="M-4.0 0 Q0 -3.4 4.0 0 Q0 3.4 -4.0 0Z" transform="translate(620.5 124.0) rotate(-35)" fill="none" stroke="#8A4B14" stroke-width="0.9"/>
<path d="M607 132 L595.5 101 M607.5 132 L610 114.5 M605.5 128.5 L596 121" fill="none" stroke="#8A4B14" stroke-width="0.9"/>
<circle cx="631.6" cy="89.4" r="1" fill="#D9771E"/><circle cx="629.5" cy="112.3" r="1" fill="#D9771E"/><circle cx="636.2" cy="105.4" r="0.8" fill="#D9771E"/>
<line x1="55" y1="362.3" x2="693" y2="362.3" stroke="#666" stroke-width="1.3"/>
<line x1="55.3" y1="362" x2="55.3" y2="366" stroke="#777" stroke-width="1"/>
<line x1="89.0" y1="362" x2="89.0" y2="366" stroke="#777" stroke-width="1"/>
<line x1="147.0" y1="362" x2="147.0" y2="366" stroke="#777" stroke-width="1"/>
<line x1="198.6" y1="362" x2="198.6" y2="366" stroke="#777" stroke-width="1"/>
<line x1="244.6" y1="362" x2="244.6" y2="366" stroke="#777" stroke-width="1"/>
<line x1="296.6" y1="362" x2="296.6" y2="366" stroke="#777" stroke-width="1"/>
<line x1="355.0" y1="362" x2="355.0" y2="366" stroke="#777" stroke-width="1"/>
<line x1="412.0" y1="362" x2="412.0" y2="366" stroke="#777" stroke-width="1"/>
<line x1="470.0" y1="362" x2="470.0" y2="366" stroke="#777" stroke-width="1"/>
<line x1="520.0" y1="362" x2="520.0" y2="366" stroke="#777" stroke-width="1"/>
<line x1="571.4" y1="362" x2="571.4" y2="366" stroke="#777" stroke-width="1"/>
<line x1="627.4" y1="362" x2="627.4" y2="366" stroke="#777" stroke-width="1"/>
<line x1="672.3" y1="362" x2="672.3" y2="366" stroke="#777" stroke-width="1"/>
<text x="23.6" y="65.7" class="y" textLength="22.2" lengthAdjust="spacingAndGlyphs">1900</text>
<text x="27.6" y="96.7" class="y" textLength="18.2" lengthAdjust="spacingAndGlyphs">800</text>
<text x="23.6" y="127.7" class="y" textLength="22.2" lengthAdjust="spacingAndGlyphs">1500</text>
<text x="27.6" y="158.7" class="y" textLength="18.2" lengthAdjust="spacingAndGlyphs">600</text>
<text x="27.6" y="190.7" class="y" textLength="18.2" lengthAdjust="spacingAndGlyphs">500</text>
<text x="27.6" y="221.7" class="y" textLength="18.2" lengthAdjust="spacingAndGlyphs">500</text>
<text x="27.6" y="253.2" class="y" textLength="18.2" lengthAdjust="spacingAndGlyphs">200</text>
<text x="27.6" y="285.2" class="y" textLength="18.2" lengthAdjust="spacingAndGlyphs">200</text>
<text x="27.6" y="316.7" class="y" textLength="18.2" lengthAdjust="spacingAndGlyphs">500</text>
<text x="39.9" y="349.7" class="y" textLength="5.9" lengthAdjust="spacingAndGlyphs">0</text>
<text x="78.1" y="385.6" class="t" textLength="17.7" lengthAdjust="spacingAndGlyphs">EXT</text>
<text x="74.4" y="400.1" class="t" textLength="25.1" lengthAdjust="spacingAndGlyphs">20.33</text>
<text x="138.9" y="385.6" class="t" textLength="21.4" lengthAdjust="spacingAndGlyphs">OCE</text>
<text x="136.8" y="400.1" class="t" textLength="25.7" lengthAdjust="spacingAndGlyphs">20.23</text>
<text x="193.7" y="385.6" class="t" textLength="13.4" lengthAdjust="spacingAndGlyphs">IST</text>
<text x="192.8" y="400.1" class="t" textLength="15.1" lengthAdjust="spacingAndGlyphs">NIL</text>
<text x="235.5" y="385.6" class="t" textLength="18.6" lengthAdjust="spacingAndGlyphs">SEP</text>
<text x="235.8" y="400.1" class="t" textLength="18.0" lengthAdjust="spacingAndGlyphs">ALL</text>
<text x="287.1" y="385.6" class="t" textLength="18.6" lengthAdjust="spacingAndGlyphs">UCT</text>
<text x="283.7" y="400.1" class="t" textLength="25.4" lengthAdjust="spacingAndGlyphs">20.22</text>
<text x="345.2" y="385.6" class="t" textLength="18.0" lengthAdjust="spacingAndGlyphs">USE</text>
<text x="342.1" y="400.1" class="t" textLength="24.3" lengthAdjust="spacingAndGlyphs">10.43</text>
<text x="404.1" y="385.6" class="t" textLength="16.3" lengthAdjust="spacingAndGlyphs">LET</text>
<text x="399.5" y="400.1" class="t" textLength="25.4" lengthAdjust="spacingAndGlyphs">20.45</text>
<text x="460.8" y="385.6" class="t" textLength="20.5" lengthAdjust="spacingAndGlyphs">SMG</text>
<text x="458.8" y="400.1" class="t" textLength="24.5" lengthAdjust="spacingAndGlyphs">20.15</text>
<text x="511.8" y="385.6" class="t" textLength="17.1" lengthAdjust="spacingAndGlyphs">WIT</text>
<text x="514.9" y="400.1" class="t" textLength="10.9" lengthAdjust="spacingAndGlyphs">73</text>
<text x="550.8" y="385.6" class="t" textLength="35.4" lengthAdjust="spacingAndGlyphs">MONEL</text>
<text x="556.8" y="400.1" class="t" textLength="23.4" lengthAdjust="spacingAndGlyphs">2029</text>
<text x="615.6" y="385.6" class="t" textLength="29.1" lengthAdjust="spacingAndGlyphs">MODE</text>
<text x="617.2" y="400.1" class="t" textLength="25.7" lengthAdjust="spacingAndGlyphs">20.34</text>
<text x="659.5" y="385.6" class="t" textLength="26.3" lengthAdjust="spacingAndGlyphs">SENR</text>
<text x="662.9" y="400.1" class="t" textLength="19.4" lengthAdjust="spacingAndGlyphs">5.13</text>
</svg>
</body></html>
